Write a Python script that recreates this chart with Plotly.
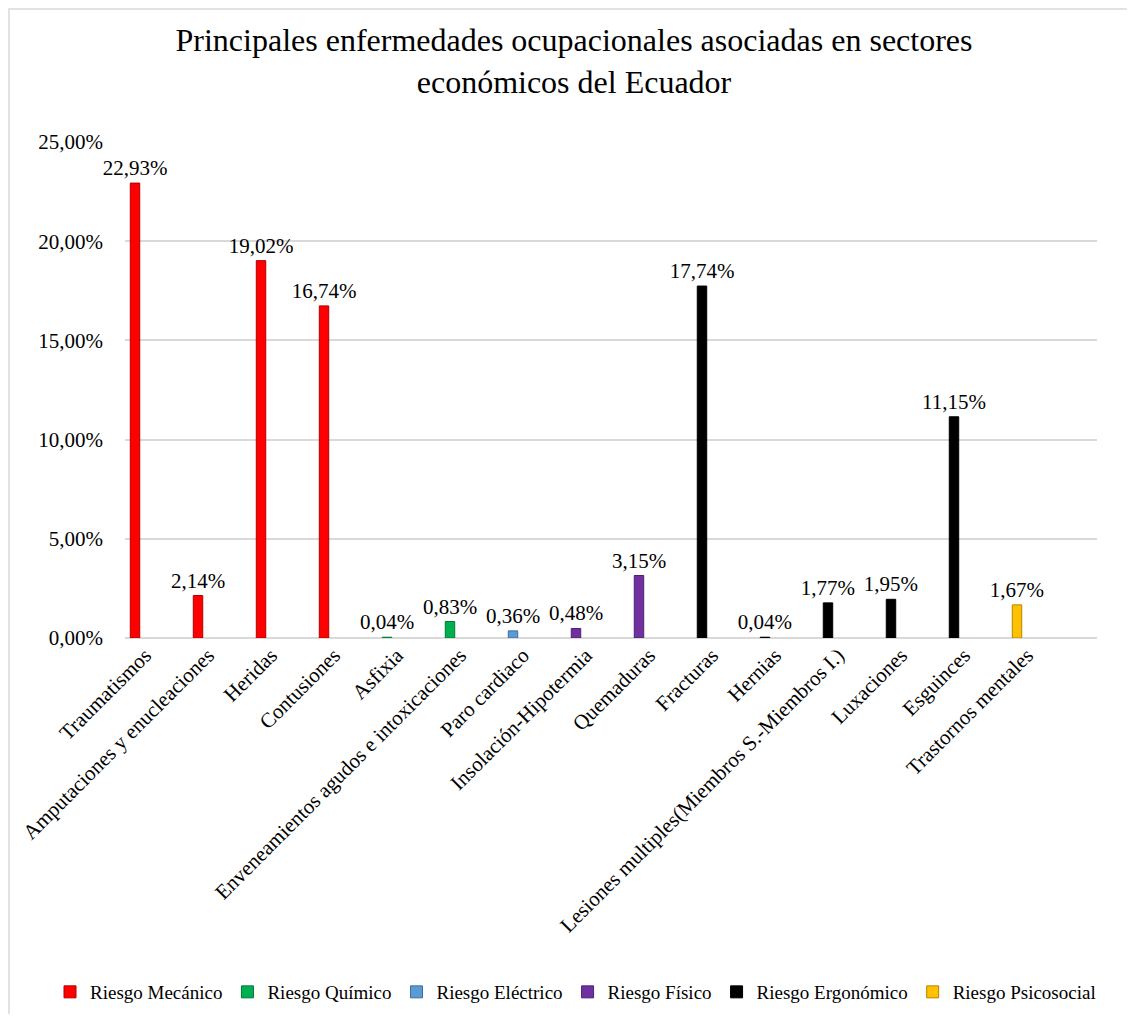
import plotly.graph_objects as go

categories = ["Traumatismos", "Amputaciones y enucleaciones", "Heridas", "Contusiones",
              "Asfixia", "Enveneamientos agudos e intoxicaciones", "Paro cardiaco",
              "Insolación-Hipotermia", "Quemaduras", "Fracturas", "Hernias",
              "Lesiones multiples(Miembros S.-Miembros I.)", "Luxaciones", "Esguinces",
              "Trastornos mentales"]
values = [22.93, 2.14, 19.02, 16.74, 0.04, 0.83, 0.36, 0.48, 3.15, 17.74, 0.04, 1.77, 1.95, 11.15, 1.67]
groups = ["Riesgo Mecánico"] * 4 + ["Riesgo Químico"] * 2 + ["Riesgo Eléctrico"] + \
         ["Riesgo Físico"] * 2 + ["Riesgo Ergonómico"] * 5 + ["Riesgo Psicosocial"]
series = ["Riesgo Mecánico", "Riesgo Químico", "Riesgo Eléctrico", "Riesgo Físico",
          "Riesgo Ergonómico", "Riesgo Psicosocial"]
colors = ["#FF0000", "#00B050", "#5B9BD5", "#7030A0", "#000000", "#FFC000"]
edge_colors = ["#B00000", "#007A38", "#3F6E99", "#4E2170", "#000000", "#B38600"]
tick_vals = [0, 5, 10, 15, 20, 25]
tick_text = ["0,00%", "5,00%", "10,00%", "15,00%", "20,00%", "25,00%"]

FONT = "Liberation Serif, Times New Roman, serif"
OFF = 8  # page body margin
W, H = 1135 - 2 * OFF, 1022 - 2 * OFF

fig = go.Figure()
for s, c, ec in zip(series, colors, edge_colors):
    xs = [cat for cat, g in zip(categories, groups) if g == s]
    ys = [v for v, g in zip(values, groups) if g == s]
    fig.add_trace(go.Bar(
        x=xs, y=ys, name=s, width=0.15,
        marker=dict(color=c, line=dict(color=ec, width=1)),
        texttemplate="%{y:.2f}%", textposition="outside", constraintext="none",
        textfont=dict(family=FONT, size=21, color="#000000"),
        cliponaxis=False,
    ))

l = 125 - OFF
t = 142 - OFF
r = W - (1097 - OFF)
b = H - (638 - OFF)
pw, ph = W - l - r, H - t - b

fig.update_layout(
    width=W, height=H,
    margin=dict(l=l, r=r, t=t, b=b, autoexpand=False),
    paper_bgcolor="white", plot_bgcolor="white",
    separators=",.",
    barmode="overlay",
    font=dict(family=FONT, size=21, color="#000000"),
    title=dict(
        text="Principales enfermedades ocupacionales asociadas en sectores<br>económicos del Ecuador",
        x=(574 - OFF) / W, xanchor="center", xref="container",
        y=1 - (51 - OFF) / H, yanchor="middle", yref="container",
        font=dict(family=FONT, size=32, color="#000000"),
    ),
    legend=dict(
        orientation="h", xref="paper", yref="paper",
        x=(42 - l) / pw, xanchor="left",
        y=((638 - OFF) - (992 - OFF)) / ph, yanchor="middle",
        font=dict(family=FONT, size=19, color="#000000"),
        itemwidth=30,
    ),
    showlegend=True,
)
fig.update_xaxes(
    type="category", categoryorder="array", categoryarray=categories,
    range=[-0.159, 15.27], tickangle=-45, showgrid=False, showline=False,
    ticks="", ticklabelshift=10, tickfont=dict(family=FONT, size=21, color="#000000"),
    automargin=False,
)
fig.update_yaxes(
    range=[0, 25], tickvals=tick_vals, ticktext=tick_text,
    showgrid=True, gridcolor="#D9D9D9", gridwidth=2,
    zeroline=True, zerolinecolor="#D9D9D9", zerolinewidth=2,
    showline=False, ticks="", ticklabelstandoff=21,
    tickfont=dict(family=FONT, size=21, color="#000000"),
    automargin=False,
)
# chart area border
fig.add_shape(type="rect", xref="paper", yref="paper",
              x0=(1 - l) / pw, x1=(W + 20 - l) / pw,
              y0=-(H + 20 - t - ph) / ph, y1=(t + ph - 1) / ph,
              line=dict(color="#D9D9D9", width=1.5), layer="below")

fig.write_html("out.html")
